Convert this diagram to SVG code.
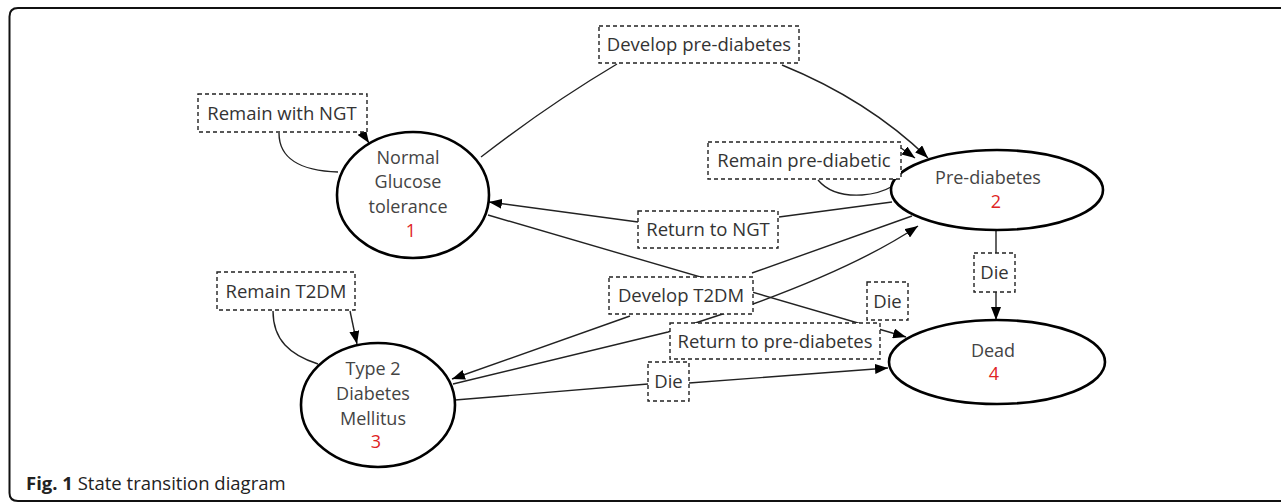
<svg xmlns="http://www.w3.org/2000/svg" width="1281" height="503" viewBox="0 0 1281 503">
<style>
.frame{fill:none;stroke:#111;stroke-width:2}
.state{fill:#fff;stroke:#000;stroke-width:2.6}
.st{font-family:"Open Sans","Noto Sans",sans-serif;font-size:18px;fill:#444;text-anchor:middle}
.num{font-family:"Open Sans","Noto Sans",sans-serif;font-size:18px;fill:#e02424;text-anchor:middle}
.lbox{fill:#fff;stroke:#222;stroke-width:1.4;stroke-dasharray:4 3}
.lt{font-family:"Open Sans","Noto Sans",sans-serif;font-size:18.5px;fill:#333;text-anchor:middle}
.conn path{fill:none;stroke:#222;stroke-width:1.4}
.arr{marker-end:url(#ah)}
.cap{font-family:"Open Sans","Noto Sans",sans-serif;font-size:18.5px;fill:#222}
</style>
<defs>
<marker id="ah" markerUnits="userSpaceOnUse" markerWidth="14" markerHeight="10" refX="13" refY="5" orient="auto">
<path d="M0,0 L13,5 L0,10 z" fill="#000"/>
</marker>
</defs>
<path class="frame" d="M1290,8 H18 Q9.5,8 9.5,16.5 V493 Q9.5,501 18,501 H1290"/>
<g id="connectors" class="conn">
<path d="M279,133 C279,158 300,171 338,172"/>
<path class="arr" d="M361,131 L369,143"/>
<path d="M481,157 Q548,105 617,64"/>
<path class="arr" d="M782,65 Q868,100 928,158"/>
<path d="M818,180 C828,192 845,196 862,195 C878,194 886,190 893,186"/>
<path class="arr" d="M901,148 L915,158"/>
<path d="M892,202 L779,217"/>
<path class="arr" d="M638,222 L489,202"/>
<path class="arr" d="M488,215 L906,337"/>
<path d="M912,216 L752,273"/>
<path class="arr" d="M630,316 L452,379"/>
<path class="arr" d="M453,384 L668,332 L753,304 Q860,265 918,226"/>
<path d="M455,400 L648,384"/>
<path class="arr" d="M689,383 L888,368"/>
<path d="M996,230 L996,253"/>
<path class="arr" d="M996,292 L996,320"/>
<path d="M273,311 C273,340 290,355 318,364"/>
<path class="arr" d="M350,311 L357,344"/>
</g>
<g id="node-ngt">
<ellipse class="state" cx="413" cy="195" rx="76" ry="63"/>
<text class="st" x="408" y="164">Normal</text>
<text class="st" x="408" y="188">Glucose</text>
<text class="st" x="408" y="213">tolerance</text>
<text class="num" x="411" y="237">1</text>
</g>
<g id="node-pd">
<ellipse class="state" cx="997" cy="190" rx="106" ry="40"/>
<text class="st" x="988" y="184">Pre-diabetes</text>
<text class="num" x="996" y="208">2</text>
</g>
<g id="node-t2dm">
<ellipse class="state" cx="378" cy="405" rx="77" ry="62"/>
<text class="st" x="373" y="375">Type 2</text>
<text class="st" x="373" y="400">Diabetes</text>
<text class="st" x="373" y="425">Mellitus</text>
<text class="num" x="376" y="448">3</text>
</g>
<g id="node-dead">
<ellipse class="state" cx="997" cy="362" rx="108" ry="42"/>
<text class="st" x="993" y="357">Dead</text>
<text class="num" x="994" y="380">4</text>
</g>
<g id="label-develop-pd">
<rect class="lbox" x="599" y="26" width="200" height="37"/>
<text class="lt" x="699" y="51">Develop pre-diabetes</text>
</g>
<g id="label-remain-ngt">
<rect class="lbox" x="198" y="94" width="169" height="38"/>
<text class="lt" x="282" y="120">Remain with NGT</text>
</g>
<g id="label-remain-pd">
<rect class="lbox" x="708" y="142" width="193" height="37"/>
<text class="lt" x="804" y="167">Remain pre-diabetic</text>
</g>
<g id="label-return-ngt">
<rect class="lbox" x="638" y="211" width="140" height="37"/>
<text class="lt" x="708" y="236">Return to NGT</text>
</g>
<g id="label-remain-t2dm">
<rect class="lbox" x="217" y="272" width="138" height="38"/>
<text class="lt" x="286" y="298">Remain T2DM</text>
</g>
<g id="label-develop-t2dm">
<rect class="lbox" x="609" y="277" width="144" height="37"/>
<text class="lt" x="681" y="302">Develop T2DM</text>
</g>
<g id="label-return-pd">
<rect class="lbox" x="670" y="323" width="210" height="36"/>
<text class="lt" x="775" y="348">Return to pre-diabetes</text>
</g>
<g id="label-die-t2dm">
<rect class="lbox" x="648" y="362" width="41" height="39"/>
<text class="lt" x="668.5" y="388">Die</text>
</g>
<g id="label-die-ngt">
<rect class="lbox" x="867" y="282" width="41" height="38"/>
<text class="lt" x="887.5" y="308">Die</text>
</g>
<g id="label-die-pd">
<rect class="lbox" x="974" y="253" width="41" height="39"/>
<text class="lt" x="994.5" y="279">Die</text>
</g>
<text class="cap" x="26" y="490"><tspan font-weight="bold">Fig. 1</tspan> State transition diagram</text>
</svg>
